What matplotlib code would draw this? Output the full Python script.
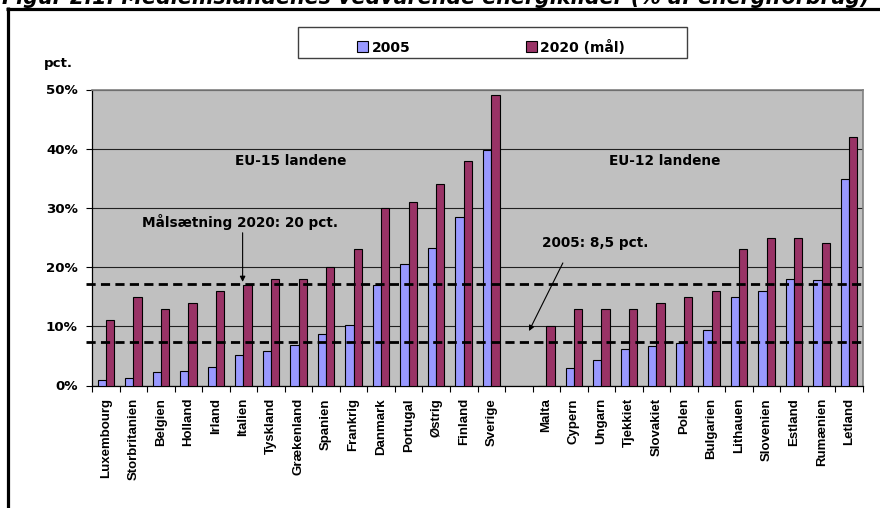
import matplotlib
matplotlib.use('Agg')
import matplotlib.pyplot as plt
from matplotlib.patches import Rectangle, Patch
from matplotlib.lines import Line2D
import numpy as np

# ---------------- data ----------------
eu15_countries = ['Luxembourg', 'Storbritanien', 'Belgien', 'Holland', 'Irland', 'Italien',
                  'Tyskland', 'Grækenland', 'Spanien', 'Frankrig', 'Danmark', 'Portugal',
                  'Østrig', 'Finland', 'Sverige']
eu15_2005 = [0.9, 1.3, 2.2, 2.4, 3.1, 5.2, 5.8, 6.9, 8.7, 10.3, 17.0, 20.5, 23.3, 28.5, 39.8]
eu15_2020 = [11, 15, 13, 14, 16, 17, 18, 18, 20, 23, 30, 31, 34, 38, 49]

eu12_countries = ['Malta', 'Cypern', 'Ungarn', 'Tjekkiet', 'Slovakiet', 'Polen', 'Bulgarien',
                  'Lithauen', 'Slovenien', 'Estland', 'Rumænien', 'Letland']
eu12_2005 = [0.0, 2.9, 4.3, 6.1, 6.7, 7.2, 9.4, 15.0, 16.0, 18.0, 17.8, 34.9]
eu12_2020 = [10, 13, 13, 13, 14, 15, 16, 23, 25, 25, 24, 42]

series_labels = ['2005', '2020 (mål)']
ref_lines = [17.1, 7.3]          # dashed reference lines as drawn in the chart
y_ticks = [0, 10, 20, 30, 40, 50]
title = 'Figur 2.1. Medlemslandenes vedvarende energikilder (% af energiforbrug)'

# ---------------- style ----------------
C2005 = '#9999FF'
C2020 = '#993366'
BG = '#C0C0C0'
BOLD = dict(family='DejaVu Sans', weight='bold')

W, H = 880, 508
fig = plt.figure(figsize=(W / 100, H / 100), dpi=100)
fx = lambda px: px / W
fy = lambda py: 1 - py / H

ax = fig.add_axes([fx(92), fy(385.5), fx(863) - fx(92), fy(89.5) - fy(385.5)])
ax.set_facecolor(BG)

# positions: EU-15 at 0..14, gap at 15, EU-12 at 16..27
pos15 = np.arange(len(eu15_countries))
pos12 = np.arange(len(eu12_countries)) + len(eu15_countries) + 1
positions = np.concatenate([pos15, pos12])
labels = eu15_countries + eu12_countries
v2005 = eu15_2005 + eu12_2005
v2020 = eu15_2020 + eu12_2020

bw = 0.3
ax.bar(positions - bw / 2, v2005, width=bw, color=C2005, edgecolor='black', linewidth=0.8, zorder=3)
ax.bar(positions + bw / 2, v2020, width=bw, color=C2020, edgecolor='black', linewidth=0.8, zorder=3)

nslots = len(eu15_countries) + 1 + len(eu12_countries)
ax.set_xlim(-0.5, nslots - 0.5)
ax.set_ylim(0, 50)

# grid
ax.set_axisbelow(True)
ax.yaxis.grid(True, color='#202020', linewidth=0.8, zorder=1)
ax.set_yticks(y_ticks)
ax.set_yticklabels([f'{t}%' for t in y_ticks], fontsize=9.6, **BOLD)
ax.tick_params(axis='y', direction='out', length=4.3, width=0.8, color='black', pad=6)

ax.set_xticks(positions)
ax.set_xticklabels(labels, rotation=90, fontsize=9.5, family='Liberation Sans', weight='bold')
ax.tick_params(axis='x', which='major', length=0, pad=9)
ax.set_xticks(np.arange(-0.5, nslots, 1.0), minor=True)
ax.tick_params(axis='x', which='minor', direction='out', length=4, width=0.8, color='black')

for s in ['top', 'right']:
    ax.spines[s].set_color('#808080')
    ax.spines[s].set_linewidth(1.2)
for s in ['left', 'bottom']:
    ax.spines[s].set_color('black')
    ax.spines[s].set_linewidth(0.9)

# dashed reference lines (extend slightly past plot)
for yv in ref_lines:
    ax.plot([-0.008, 1.004], [yv, yv], transform=ax.get_yaxis_transform(), color='black',
            linewidth=2.0, linestyle=(0, (3.3, 1.9)), clip_on=False, zorder=5)

# annotations
ax.text(6.7, 38.0, 'EU-15 landene', ha='center', va='center', fontsize=9.8, zorder=6, **BOLD)
ax.text(20.3, 38.0, 'EU-12 landene', ha='center', va='center', fontsize=9.8, zorder=6, **BOLD)
ax.text(4.87, 27.6, 'Målsætning 2020: 20 pct.', ha='center', va='center', fontsize=9.8, zorder=6, **BOLD)
ax.text(17.76, 24.1, '2005: 8,5 pct.', ha='center', va='center', fontsize=9.8, zorder=6, **BOLD)
arrow = dict(arrowstyle='-|>', color='black', lw=0.8, mutation_scale=8, shrinkA=0, shrinkB=0)
ax.annotate('', xy=(4.97, 17.5), xytext=(4.97, 25.8), arrowprops=arrow, zorder=6)
ax.annotate('', xy=(15.37, 9.2), xytext=(16.6, 20.7), arrowprops=arrow, zorder=6)

# "pct." label
fig.text(fx(58), fy(63), 'pct.', ha='center', va='center', fontsize=9.6, **BOLD)

# legend box
fig.add_artist(Rectangle((fx(298), fy(58)), fx(687) - fx(298), fy(27) - fy(58),
                         transform=fig.transFigure, facecolor='white', edgecolor='#404040',
                         linewidth=1.0, zorder=1))
handles = [Patch(facecolor=C2005, edgecolor='black', linewidth=0.8),
           Patch(facecolor=C2020, edgecolor='black', linewidth=0.8)]
leg = fig.legend(handles, series_labels, loc='center', bbox_to_anchor=(fx(491), fy(47)),
                 ncol=2, frameon=False, prop=dict(family='DejaVu Sans', weight='bold', size=10),
                 handlelength=0.8, handleheight=0.8, handletextpad=0.25, columnspacing=8.3,
                 borderpad=0, borderaxespad=0)
leg.set_zorder(2)

# outer frame (thick black lines top and left)
fig.add_artist(Line2D([fx(6), fx(880)], [fy(8.5), fy(8.5)], transform=fig.transFigure,
                      color='black', linewidth=2.3, solid_capstyle='butt'))
fig.add_artist(Line2D([fx(7.5), fx(7.5)], [fy(7.4), fy(508)], transform=fig.transFigure,
                      color='black', linewidth=2.3, solid_capstyle='butt'))

# title (partly cut off at top edge as in reference)
t = fig.text(fx(2), fy(3.5), title, ha='left', va='baseline', fontsize=14,
             family='DejaVu Sans', weight='bold', style='italic')
fig.canvas.draw()
ext = t.get_window_extent()
t.set_fontsize(14 * (873 / ext.width))

fig.savefig('out.png', dpi=100)
